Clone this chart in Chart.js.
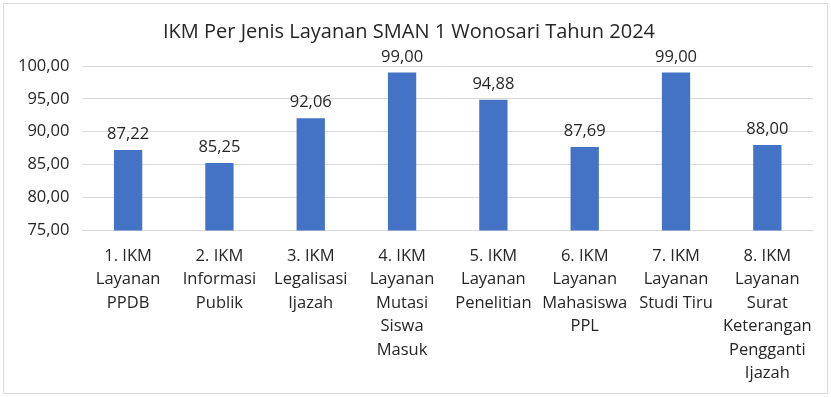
<!DOCTYPE html>
<html>
<head>
<meta charset="utf-8">
<script src="https://cdn.jsdelivr.net/npm/chart.js@4"></script>
<style>
  body { margin: 0; background: #ffffff; }
  #box { position: absolute; left: 3px; top: 3px; width: 823px; height: 389px; border: 1px solid #d9d9d9; background: #fff; }
</style>
</head>
<body>
<div id="box"><canvas id="ikmChart"></canvas></div>
<script>
const categories = [
    ['1. IKM', 'Layanan', 'PPDB'],
    ['2. IKM', 'Informasi', 'Publik'],
    ['3. IKM', 'Legalisasi', 'Ijazah'],
    ['4. IKM', 'Layanan', 'Mutasi', 'Siswa', 'Masuk'],
    ['5. IKM', 'Layanan', 'Penelitian'],
    ['6. IKM', 'Layanan', 'Mahasiswa', 'PPL'],
    ['7. IKM', 'Layanan', 'Studi Tiru'],
    ['8. IKM', 'Layanan', 'Surat', 'Keterangan', 'Pengganti', 'Ijazah']
];
const ikmValues = [87.22, 85.25, 92.06, 99.00, 94.88, 87.69, 99.00, 88.00];
const yTicks = [75, 80, 85, 90, 95, 100];

const fontFamily = "'Open Sans', 'Noto Sans', sans-serif";
const fmt = v => v.toFixed(2).replace('.', ',');

// data labels above each bar
const valueLabels = {
    id: 'valueLabels',
    afterDatasetsDraw(chart) {
        const c = chart.ctx;
        const meta = chart.getDatasetMeta(0);
        c.save();
        c.font = '16.5px ' + fontFamily;
        c.fillStyle = '#262626';
        c.textAlign = 'center';
        c.textBaseline = 'alphabetic';
        meta.data.forEach((bar, i) => {
            c.fillText(fmt(ikmValues[i]), bar.x, bar.y - 11);
        });
        c.restore();
    }
};

const ctx = document.getElementById('ikmChart').getContext('2d');
new Chart(ctx, {
    type: 'bar',
    data: {
        labels: categories,
        datasets: [{
            label: 'IKM',
            data: ikmValues,
            backgroundColor: '#4472C4',
            borderWidth: 0,
            categoryPercentage: 1.0,
            barPercentage: 0.31
        }]
    },
    options: {
        responsive: true,
        maintainAspectRatio: false,
        animation: false,
        layout: {
            padding: { left: 1, right: 14, top: 0, bottom: 2 }
        },
        scales: {
            y: {
                min: 75,
                max: 100,
                afterBuildTicks: axis => { axis.ticks = yTicks.map(v => ({ value: v })); },
                border: { display: false },
                grid: { color: '#d9d9d9', drawTicks: false },
                ticks: {
                    color: '#262626',
                    padding: 13,
                    font: { family: fontFamily, size: 16.5 },
                    callback: v => fmt(v)
                }
            },
            x: {
                border: { display: false },
                grid: { display: false },
                ticks: {
                    color: '#262626',
                    padding: 6,
                    maxRotation: 0,
                    autoSkip: false,
                    font: { family: fontFamily, size: 16.5, lineHeight: 1.42 }
                }
            }
        },
        plugins: {
            title: {
                display: true,
                text: 'IKM Per Jenis Layanan SMAN 1 Wonosari Tahun 2024',
                color: '#262626',
                font: { family: fontFamily, size: 20, weight: 'normal' },
                padding: { top: 16, bottom: 22 }
            },
            legend: { display: false },
            tooltip: { enabled: false }
        }
    },
    plugins: [valueLabels]
});
</script>
</body>
</html>
